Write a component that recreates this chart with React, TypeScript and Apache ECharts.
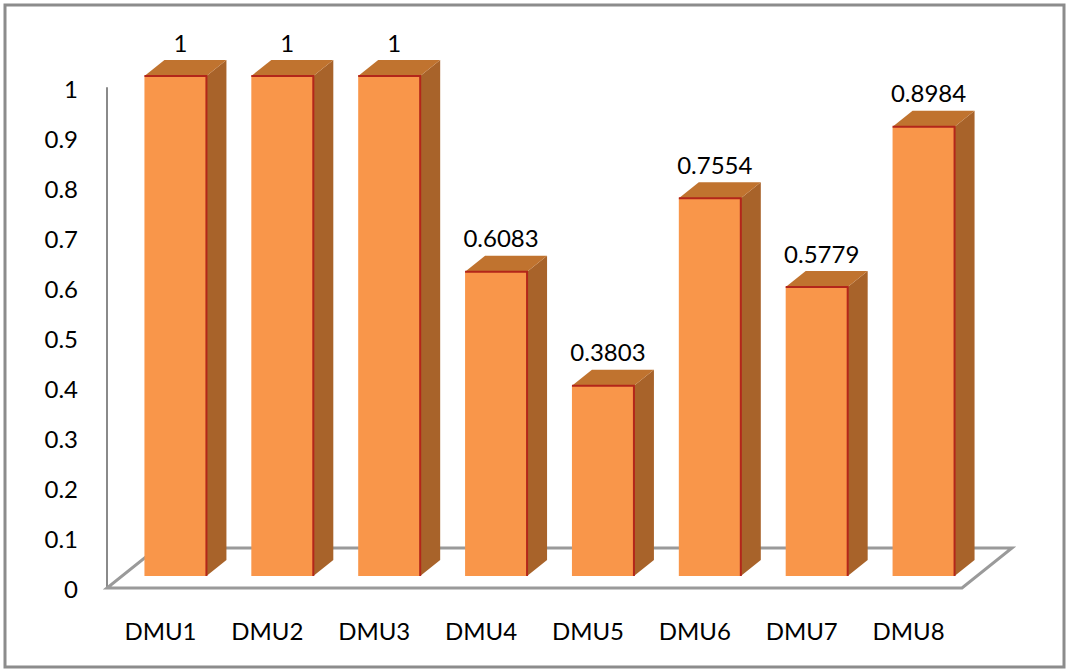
import React, { useEffect, useRef } from "react";
import * as echarts from "echarts";

const categories = ["DMU1", "DMU2", "DMU3", "DMU4", "DMU5", "DMU6", "DMU7", "DMU8"];
const efficiency = [1, 1, 1, 0.6083, 0.3803, 0.7554, 0.5779, 0.8984];
const yTicks = [0, 0.1, 0.2, 0.3, 0.4, 0.5, 0.6, 0.7, 0.8, 0.9, 1];

const DEPTH_X = 50;
const DEPTH_Y = -40;
const FONT = "Lato, 'Open Sans', sans-serif";

export default function App() {
  const ref = useRef<HTMLDivElement>(null);
  useEffect(() => {
    if (!ref.current) return;
    const chart = echarts.init(ref.current, null, { renderer: "svg" });
    const option: any = {
      animation: false,
      backgroundColor: "#ffffff",
      grid: { left: 107, right: 104, top: 88, bottom: 82, containLabel: false },
      graphic: [
        {
          type: "rect",
          shape: { x: 5, y: 5, width: 1059, height: 662 },
          style: { fill: "none", stroke: "#8c8c8c", lineWidth: 3 },
          z: 100,
        },
      ],
      xAxis: {
        type: "category",
        data: categories,
        axisLine: { show: false },
        axisTick: { show: false },
        splitLine: { show: false },
        axisLabel: { fontFamily: FONT, fontSize: 24, color: "#000", margin: 30 },
      },
      yAxis: {
        type: "value",
        min: 0,
        max: 1,
        interval: 0.1,
        axisLine: { show: true, lineStyle: { color: "#8a8a8a", width: 2 } },
        axisTick: { show: false },
        splitLine: { show: false },
        axisLabel: {
          fontFamily: FONT,
          fontSize: 24,
          color: "#000",
          margin: 29,
          formatter: (v: number) => {
            const t = yTicks.find((k) => Math.abs(k - v) < 1e-9);
            return String(t !== undefined ? t : Number(v.toFixed(1)));
          },
        },
      },
      series: [
        {
          type: "custom",
          z: 1,
          data: [0],
          silent: true,
          renderItem: (params: any, api: any) => {
            const cs = params.coordSys;
            const x0 = cs.x;
            const x1 = cs.x + cs.width;
            const y0 = cs.y + cs.height;
            return {
              type: "polygon",
              shape: {
                points: [
                  [x0, y0],
                  [x1, y0],
                  [x1 + DEPTH_X, y0 + DEPTH_Y],
                  [x0 + DEPTH_X, y0 + DEPTH_Y],
                ],
              },
              style: { fill: "#ffffff", stroke: "#9a9a9a", lineWidth: 3 },
            };
          },
        },
        {
          type: "custom",
          z: 5,
          data: efficiency.map((v, i) => [i, v]),
          renderItem: (params: any, api: any) => {
            const idx = api.value(0);
            const v = api.value(1);
            const base = api.coord([idx, 0]);
            const top = api.coord([idx, v]);
            const bw = api.size([1, 0])[0];
            const w = bw * 0.58;
            const fx = 0.3 * DEPTH_X;
            const fy = 0.3 * DEPTH_Y;
            const dx = 0.4 * DEPTH_X;
            const dy = 0.4 * DEPTH_Y;
            const xl = base[0] - w / 2 + fx;
            const xr = xl + w;
            const yb = base[1] + fy;
            const yt = top[1] + fy;
            return {
              type: "group",
              children: [
                {
                  type: "polygon",
                  shape: { points: [[xr, yt], [xr + dx, yt + dy], [xr + dx, yb + dy], [xr, yb]] },
                  style: { fill: "#a8632a" },
                },
                {
                  type: "polygon",
                  shape: { points: [[xl, yt], [xl + dx, yt + dy], [xr + dx, yt + dy], [xr, yt]] },
                  style: { fill: "#c0732f" },
                },
                {
                  type: "rect",
                  shape: { x: xl, y: yt, width: w, height: yb - yt },
                  style: { fill: "#f9964a" },
                },
                {
                  type: "polyline",
                  shape: { points: [[xl, yt], [xr, yt], [xr, yb]] },
                  style: { fill: "none", stroke: "#b3261a", lineWidth: 2 },
                },
                {
                  type: "text",
                  style: {
                    x: (xl + xr) / 2 + 5,
                    y: yt + dy - 6,
                    text: String(v),
                    fontFamily: FONT,
                    fontSize: 24,
                    fill: "#000",
                    align: "center",
                    verticalAlign: "bottom",
                  },
                },
              ],
            };
          },
        },
      ],
    };
    chart.setOption(option);
    return () => chart.dispose();
  }, []);
  return (
    <div
      ref={ref}
      style={{ position: "fixed", left: 0, top: 0, width: 1066, height: 670 }}
    />
  );
}
